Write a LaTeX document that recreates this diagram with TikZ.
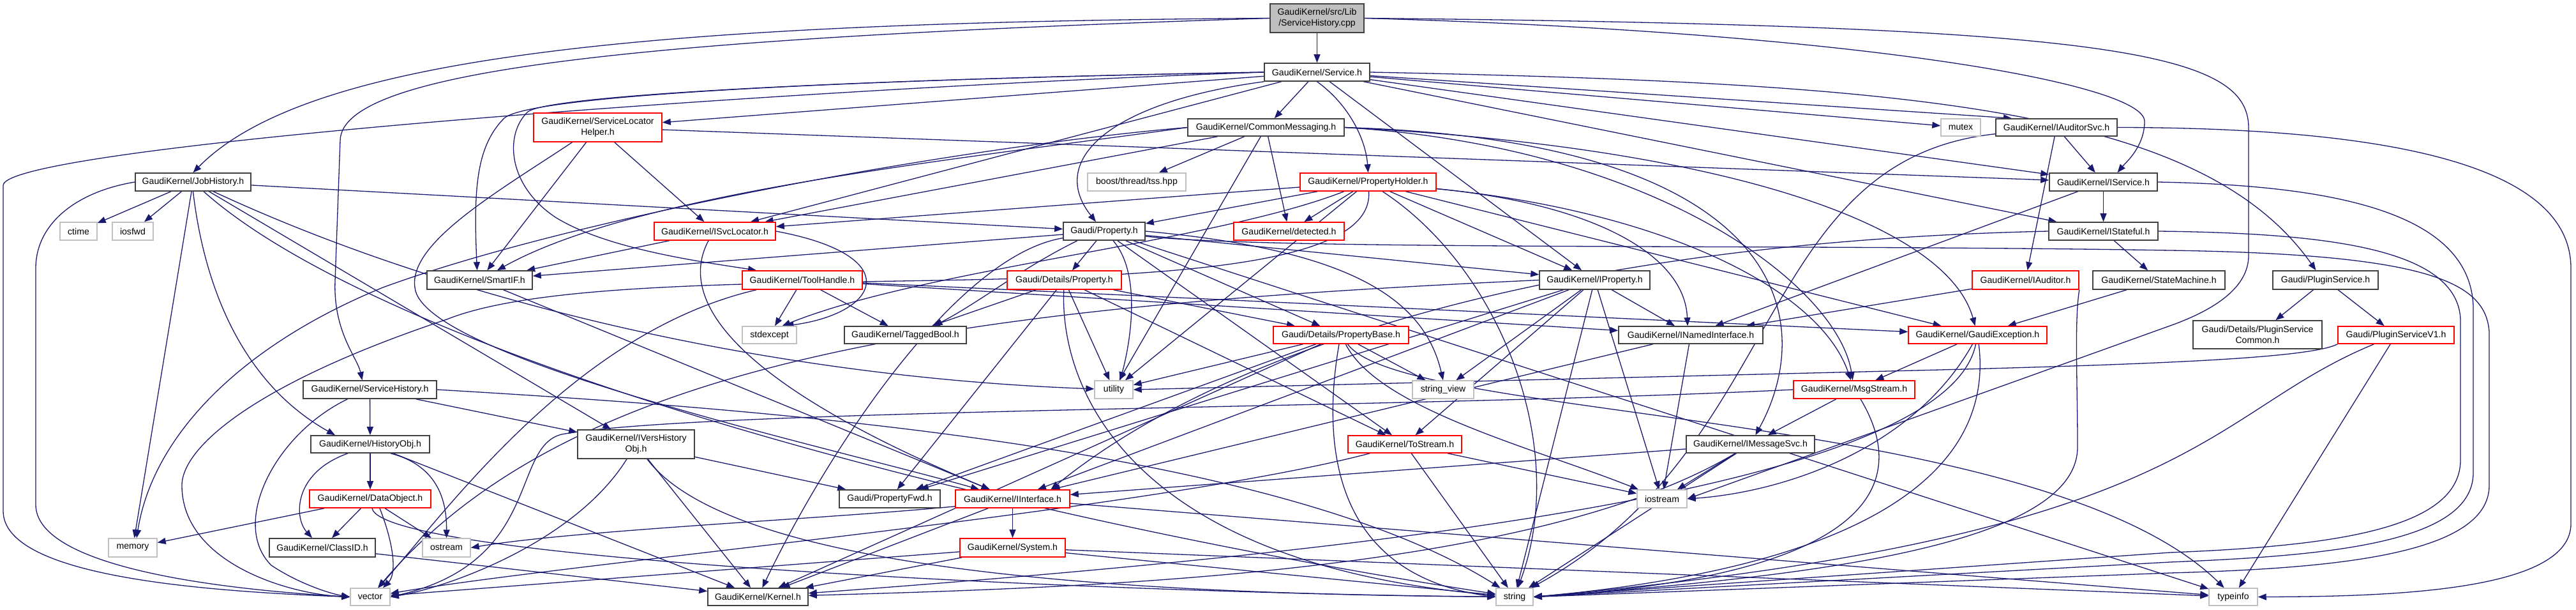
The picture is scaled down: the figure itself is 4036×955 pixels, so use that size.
\documentclass[tikz,border=0pt]{standalone}
\usepackage{fontspec}
\setmainfont{Liberation Sans}
\usetikzlibrary{arrows.meta}
\definecolor{edgeblue}{HTML}{191970}
\definecolor{boxred}{HTML}{FF0000}
\definecolor{boxgray}{HTML}{BFBFBF}
\definecolor{rootfill}{HTML}{BFBFBF}
\definecolor{boxblack}{HTML}{404040}
\pgfdeclarelayer{bg}
\pgfsetlayers{bg,main}
\newcommand{\nfont}{\fontsize{14.1}{17}\selectfont}
\tikzset{
  nd/.style={rectangle, inner sep=0pt, font=\nfont, align=center, fill=white, text=black},
  bbox/.style={nd, draw=boxblack, line width=1.6pt},
  rbox/.style={nd, draw=boxred, line width=1.6pt},
  gbox/.style={nd, draw=boxgray, line width=1.4pt},
  sz/.style 2 args={minimum width=#1pt, minimum height=#2pt},
  ed/.style={draw=edgeblue, line width=1.3pt, -{Triangle[length=13pt,width=10pt]}},
}
\begin{document}
\begin{tikzpicture}[x=1pt,y=1pt]
\useasboundingbox (0,0) rectangle (4036,-955);
% ---------------- nodes ----------------
\node[bbox, sz={147}{45}, fill=rootfill] (root) at (2063.5,-28.5) {GaudiKernel/src/Lib\\/ServiceHistory.cpp};
\node[bbox, sz={165}{28}] (service) at (2063.5,-113) {GaudiKernel/Service.h};
\node[bbox, sz={245}{27}] (common) at (1983.5,-199.5) {GaudiKernel/CommonMessaging.h};
\node[gbox, sz={62}{27}] (mutex) at (3072,-199.5) {mutex};
\node[bbox, sz={190}{27}] (iauditorsvc) at (3222,-199.5) {GaudiKernel/IAuditorSvc.h};
\node[rbox, sz={201}{45}] (svclochelper) at (936.5,-199.5) {GaudiKernel/ServiceLocator\\Helper.h};
\node[bbox, sz={181}{28}] (jobhist) at (302.5,-285) {GaudiKernel/JobHistory.h};
\node[gbox, sz={154}{28}] (tss) at (1781,-285) {boost/thread/tss.hpp};
\node[rbox, sz={213}{28}] (propholder) at (2143.5,-285) {GaudiKernel/PropertyHolder.h};
\node[bbox, sz={169}{28}] (iservice) at (3295.5,-285) {GaudiKernel/IService.h};
\node[gbox, sz={58}{28}] (ctime) at (123,-362) {ctime};
\node[gbox, sz={64}{28}] (iosfwd) at (208,-362) {iosfwd};
\node[rbox, sz={190}{28}] (isvcloc) at (1120,-362) {GaudiKernel/ISvcLocator.h};
\node[bbox, sz={128}{28}] (property) at (1730,-362) {Gaudi/Property.h};
\node[rbox, sz={173}{28}] (detected) at (2019.5,-362) {GaudiKernel/detected.h};
\node[bbox, sz={171}{28}] (istateful) at (3295.5,-362) {GaudiKernel/IStateful.h};
\node[bbox, sz={165}{29}] (smartif) at (751.5,-438.5) {GaudiKernel/SmartIF.h};
\node[rbox, sz={188}{29}] (toolhandle) at (1257,-438.5) {GaudiKernel/ToolHandle.h};
\node[rbox, sz={179}{29}] (detprop) at (1667.5,-438.5) {Gaudi/Details/Property.h};
\node[bbox, sz={173}{29}] (iproperty) at (2498.5,-438.5) {GaudiKernel/IProperty.h};
\node[rbox, sz={167}{29}] (iauditor) at (3173.5,-438.5) {GaudiKernel/IAuditor.h};
\node[bbox, sz={207}{29}] (statemachine) at (3382.5,-438.5) {GaudiKernel/StateMachine.h};
\node[bbox, sz={165}{29}] (pluginservice) at (3643.5,-438.5) {Gaudi/PluginService.h};
\node[gbox, sz={85}{27}] (stdexcept) at (1205.5,-524.5) {stdexcept};
\node[bbox, sz={191}{27}] (taggedbool) at (1418.5,-524.5) {GaudiKernel/TaggedBool.h};
\node[rbox, sz={212}{27}] (propbase) at (2101,-524.5) {Gaudi/Details/PropertyBase.h};
\node[bbox, sz={226}{27}] (inamed) at (2649,-524.5) {GaudiKernel/INamedInterface.h};
\node[rbox, sz={217}{27}] (gexc) at (3098.5,-524.5) {GaudiKernel/GaudiException.h};
\node[bbox, sz={202}{44}] (plugincommon) at (3537,-524) {Gaudi/Details/PluginService\\Common.h};
\node[rbox, sz={182}{27}] (pluginv1) at (3754,-524.5) {Gaudi/PluginServiceV1.h};
\node[bbox, sz={209}{28}] (svchist) at (579.5,-610) {GaudiKernel/ServiceHistory.h};
\node[gbox, sz={60}{28}] (utility) at (1745,-610) {utility};
\node[gbox, sz={96}{28}] (stringview) at (2261,-610) {string\_view};
\node[rbox, sz={190}{28}] (msgstream) at (2905,-610) {GaudiKernel/MsgStream.h};
\node[bbox, sz={186}{27}] (histobj) at (580,-695.5) {GaudiKernel/HistoryObj.h};
\node[bbox, sz={183}{45}] (iversh) at (996.5,-695.5) {GaudiKernel/IVersHistory\\Obj.h};
\node[rbox, sz={178}{27}] (tostream) at (2201,-695.5) {GaudiKernel/ToStream.h};
\node[bbox, sz={201}{27}] (imsgsvc) at (2742.5,-695.5) {GaudiKernel/IMessageSvc.h};
\node[rbox, sz={190}{28}] (dataobj) at (580,-781) {GaudiKernel/DataObject.h};
\node[bbox, sz={158}{28}] (propfwd) at (1394,-781) {Gaudi/PropertyFwd.h};
\node[rbox, sz={179}{28}] (iinterface) at (1586.5,-781) {GaudiKernel/IInterface.h};
\node[gbox, sz={78}{28}] (iostream) at (2604,-781) {iostream};
\node[gbox, sz={76}{29}] (memory) at (208,-857.5) {memory};
\node[bbox, sz={166}{29}] (classid) at (505,-857.5) {GaudiKernel/ClassID.h};
\node[gbox, sz={75}{29}] (ostream) at (699.5,-857.5) {ostream};
\node[rbox, sz={165}{29}] (system) at (1586.5,-857.5) {GaudiKernel/System.h};
\node[gbox, sz={62}{27}] (vector) at (580,-934.5) {vector};
\node[bbox, sz={157}{27}] (kernel) at (1187.5,-934.5) {GaudiKernel/Kernel.h};
\node[gbox, sz={58}{27}] (string) at (2373,-934.5) {string};
\node[gbox, sz={76}{27}] (typeinfo) at (3499,-934.5) {typeinfo};
% ---------------- edges ----------------
\begin{pgfonlayer}{bg}
% root
\draw[ed] (root) -- (service);
\draw[ed] (root.west) .. controls (1000,-35) and (480,-90) .. (jobhist.north);
\draw[ed] (root.west) .. controls (1000,-60) and (535,-110) .. (533,-220) -- (525,-440) .. controls (522,-520) and (560,-560) .. ([xshift=-12pt]svchist.north);
\draw[ed] (root.east) .. controls (2900,-50) and (3360,-130) .. (3360,-190) .. controls (3360,-230) and (3330,-255) .. ([xshift=22pt]iservice.north);
\draw[ed] (root.east) .. controls (3300,-40) and (3523,-80) .. (3523,-200) -- (3523,-400) .. controls (3523,-450) and (3470,-485) .. (3400,-510) -- (iostream.east);
% service
\draw[ed] (service) -- (common);
\draw[ed] (service) -- ([xshift=-70pt]iauditorsvc.north);
\draw[ed] (service) -- (mutex);
\draw[ed] (service) -- (iproperty);
\draw[ed] (service) -- (iservice);
\draw[ed] (service) -- (istateful);
\draw[ed] (service) -- (isvcloc);
\draw[ed] (service) -- (svclochelper);
\draw[ed] (service.south west) .. controls (1740,-160) and (1640,-250) .. ([xshift=-13pt]property.north);
\draw[ed] (service.south) .. controls (2115,-165) and (2140,-220) .. (propholder.north);
\draw[ed] (service.east) .. controls (3000,-130) and (3450,-170) .. ([xshift=-15pt]pluginservice.north);
\draw[ed] (service.west) .. controls (1300,-125) and (830,-150) .. (790,-185) .. controls (745,-230) and (742,-300) .. ([xshift=-4pt]smartif.north);
\draw[ed] (service.west) .. controls (1300,-125) and (860,-150) .. (827,-175) .. controls (790,-210) and (795,-290) .. (870,-340) .. controls (950,-390) and (1100,-410) .. ([xshift=-72pt]toolhandle.north);
\draw[ed] (service.west) .. controls (1200,-140) and (8,-230) .. (5,-290) -- (5,-800) .. controls (5,-900) and (300,-925) .. (vector.west);
% jobhist
\draw[ed] (jobhist) -- (ctime);
\draw[ed] (jobhist) -- (iosfwd);
\draw[ed] (jobhist) -- (memory);
\draw[ed] (jobhist) -- (iversh);
\draw[ed] (jobhist) -- (property);
\draw[ed] (jobhist.south) .. controls (320,-450) and (380,-600) .. ([xshift=-55pt]histobj.north);
\draw[ed] (jobhist) .. controls (600,-550) and (1500,-800) .. (string);
\draw[ed] (jobhist) .. controls (700,-470) and (1200,-590) .. (utility);
\draw[ed] (jobhist.west) .. controls (120,-300) and (56,-350) .. (56,-420) -- (56,-790) .. controls (56,-880) and (300,-920) .. (vector.west);
% svchist
\draw[ed] (svchist) -- (histobj);
\draw[ed] (svchist) -- (iversh);
\draw[ed] (svchist.east) .. controls (1200,-640) and (2000,-700) .. (string);
\draw[ed] ([xshift=-35pt]svchist.south) .. controls (430,-680) and (360,-820) .. (425,-885) .. controls (470,-915) and (520,-930) .. (vector.west);
% histobj
\draw[ed] (histobj) -- (dataobj);
\draw[ed] ([xshift=-35pt]histobj.south) .. controls (460,-740) and (460,-810) .. ([xshift=-16pt]classid.north);
\draw[ed] ([xshift=32pt]histobj.south) .. controls (690,-730) and (700,-790) .. (ostream.north);
\draw[ed] (histobj) -- (kernel);
% dataobj
\draw[ed] (dataobj) -- (classid);
\draw[ed] (dataobj) -- (memory);
\draw[ed] (dataobj) -- (ostream);
\draw[ed] (dataobj) .. controls (600,-880) and (1800,-930) .. (string);
\draw[ed] ([xshift=15pt]dataobj.south) .. controls (620,-860) and (620,-900) .. ([xshift=20pt]vector.north);
\draw[ed] (classid) -- (kernel);
% iversh
\draw[ed] (iversh) -- (propfwd);
\draw[ed] (iversh) -- (kernel);
\draw[ed] (iversh) .. controls (1150,-900) and (1800,-930) .. (string);
\draw[ed] (iversh) .. controls (900,-850) and (700,-920) .. (vector.east);
% common
\draw[ed] (common) -- (tss);
\draw[ed] (common) -- (detected);
\draw[ed] (common) -- (isvcloc);
\draw[ed] (common) -- (utility);
\draw[ed] (common.east) .. controls (2700,-230) and (3050,-350) .. (gexc);
\draw[ed] (common.east) .. controls (2800,-220) and (2850,-500) .. (imsgsvc);
\draw[ed] (common.east) .. controls (2600,-230) and (2880,-450) .. (msgstream);
\draw[ed] (common.west) .. controls (1500,-250) and (1000,-300) .. (smartif);
\draw[ed] (common.west) .. controls (1500,-230) and (900,-340) .. (600,-450) .. controls (380,-540) and (240,-680) .. ([xshift=6pt]memory.north);
% svclochelper
\draw[ed] (svclochelper) -- (isvcloc);
\draw[ed] (svclochelper) -- (smartif);
\draw[ed] (svclochelper) -- (iservice);
\draw[ed] ([xshift=-40pt]svclochelper.south) .. controls (780,-300) and (640,-380) .. (650,-450) .. controls (660,-560) and (1300,-700) .. (iinterface);
% propholder
\draw[ed] (propholder) -- (property);
\draw[ed] (propholder) -- (detected);
\draw[ed] (propholder) -- (iproperty);
\draw[ed] (propholder) -- (isvcloc);
\draw[ed] (propholder) -- (gexc);
\draw[ed] (propholder) -- (utility);
\draw[ed] (propholder) .. controls (2600,-330) and (2850,-450) .. (msgstream);
\draw[ed] (propholder) .. controls (2500,-320) and (2640,-400) .. ([xshift=-5pt]inamed.north);
\draw[ed] (propholder) .. controls (1900,-380) and (1450,-420) .. ([xshift=20pt]stdexcept.north);
\draw[ed] (propholder) .. controls (2350,-420) and (2460,-700) .. ([xshift=5pt]string.north);
\draw[ed] (propholder) .. controls (2160,-520) and (1000,-380) .. (700,-500) .. controls (400,-600) and (285,-700) .. (285,-760) .. controls (285,-880) and (450,-930) .. (vector.west);
% property
\draw[ed] (property) -- (detprop);
\draw[ed] (property) -- (propbase);
\draw[ed] (property) -- (iproperty);
\draw[ed] (property) -- (smartif);
\draw[ed] (property) -- (tostream);
\draw[ed] (property) -- (typeinfo);
\draw[ed] (property) .. controls (1500,-400) and (1300,-700) .. (kernel);
\draw[ed] ([xshift=-42pt]property.south) .. controls (1600,-420) and (1540,-470) .. ([xshift=45pt]taggedbool.north);
\draw[ed] (property.east) .. controls (2100,-390) and (2230,-460) .. (stringview.north);
\draw[ed] ([xshift=14pt]property.south) .. controls (1790,-430) and (1770,-540) .. ([xshift=10pt]utility.north);
\draw[ed] ([yshift=-8pt]property.east) .. controls (2000,-392) and (2800,-382) .. (3400,-392) .. controls (3800,-398) and (3895,-440) .. (3900,-520) -- (3900,-760) .. controls (3900,-870) and (3650,-890) .. (3400,-897) -- (string.east);
% isvcloc
\draw[ed] (isvcloc) -- (smartif);
\draw[ed] ([xshift=-10pt]isvcloc.south) .. controls (1060,-470) and (1150,-600) .. (iinterface);
\draw[ed] (isvcloc.east) .. controls (1420,-400) and (1380,-490) .. ([xshift=25pt]stdexcept.north);
% toolhandle
\draw[ed] (toolhandle) -- (stdexcept);
\draw[ed] (toolhandle) -- (taggedbool);
\draw[ed] (toolhandle) -- (inamed);
\draw[ed] (toolhandle) -- (gexc);
\draw[ed] ([xshift=-72pt]toolhandle.south) .. controls (900,-520) and (700,-800) .. (vector);
% detprop
\draw[ed] (detprop) -- (taggedbool);
\draw[ed] (detprop) -- (propfwd);
\draw[ed] (detprop) -- (utility);
\draw[ed] (detprop) -- (propbase);
\draw[ed] (detprop) -- (tostream);
\draw[ed] (detprop) .. controls (1660,-600) and (1760,-880) .. (string);
% iproperty
\draw[ed] (iproperty) -- (iinterface);
\draw[ed] (iproperty) -- (inamed);
\draw[ed] (iproperty) -- (propfwd);
\draw[ed] (iproperty) -- (iostream);
\draw[ed] (iproperty) -- (string);
\draw[ed] (iproperty) -- (stringview);
\draw[ed] (iproperty) -- (tostream);
\draw[ed] (iproperty.west) .. controls (1500,-480) and (900,-560) .. (vector);
% smartif
\draw[ed] (smartif) -- (iinterface);
% propbase
\draw[ed] (propbase) -- (propfwd);
\draw[ed] (propbase) -- (kernel);
\draw[ed] (propbase) -- (stringview);
\draw[ed] (propbase) -- (utility);
\draw[ed] ([xshift=-3pt]propbase.south) .. controls (2070,-700) and (2090,-900) .. (string.west);
\draw[ed] (propbase) .. controls (2160,-640) and (2400,-700) .. (iostream);
\draw[ed] (propbase) .. controls (2200,-660) and (3200,-640) .. (typeinfo);
% inamed
\draw[ed] (inamed) -- (iinterface);
\draw[ed] (inamed) -- (iostream);
% tostream
\draw[ed] (tostream) -- (string);
\draw[ed] (tostream) -- (iostream);
\draw[ed] (tostream) .. controls (1800,-800) and (900,-880) .. (vector);
% imsgsvc
\draw[ed] (imsgsvc) -- (iinterface);
\draw[ed] (imsgsvc) -- (iostream);
\draw[ed] (imsgsvc) -- (string);
\draw[ed] (imsgsvc) .. controls (2400,-900) and (1700,-920) .. (kernel);
% msgstream
\draw[ed] (msgstream) -- (imsgsvc);
\draw[ed] ([xshift=10pt]msgstream.south) .. controls (2990,-750) and (2950,-900) .. (string.east);
\draw[ed] (msgstream.west) .. controls (2200,-640) and (1100,-640) .. (880,-680) .. controls (800,-700) and (850,-880) .. (vector.east);
% gexc
\draw[ed] (gexc) -- (msgstream);
\draw[ed] (gexc) .. controls (3000,-700) and (2800,-770) .. (iostream.east);
\draw[ed] (gexc) .. controls (3050,-760) and (2200,-860) .. (kernel);
\draw[ed] (gexc) .. controls (3120,-700) and (3000,-880) .. (string.east);
% iinterface
\draw[ed] (iinterface) -- (system);
\draw[ed] (iinterface) -- (kernel);
\draw[ed] (iinterface) -- (typeinfo);
\draw[ed] ([yshift=3pt]iinterface.south west) .. controls (1300,-812) and (900,-830) .. (ostream.east);
% system
\draw[ed] (system) -- (kernel);
\draw[ed] (system) -- (string);
\draw[ed] (system) -- (typeinfo);
\draw[ed] (system) -- (vector);
% iservice
\draw[ed] (iservice) -- (istateful);
\draw[ed] (iservice) -- (inamed);
\draw[ed] (iservice.east) .. controls (3650,-290) and (3870,-330) .. (3875,-480) -- (3875,-740) .. controls (3875,-850) and (3650,-870) .. (3400,-880) -- (string.east);
% istateful
\draw[ed] (istateful) -- (statemachine);
\draw[ed] (istateful.west) .. controls (2400,-380) and (1900,-560) .. ([xshift=60pt]iinterface.north);
\draw[ed] (istateful.east) .. controls (3650,-365) and (3850,-390) .. (3855,-500) -- (3855,-720) .. controls (3855,-830) and (3650,-855) .. (3400,-865) -- (string.east);
% statemachine
\draw[ed] (statemachine) -- (gexc);
% iauditor
\draw[ed] (iauditor) -- (inamed);
\draw[ed] (iauditor.south east) .. controls (3250,-500) and (3255,-600) .. (3255,-700) .. controls (3255,-860) and (2800,-905) .. (string.east);
% iauditorsvc
\draw[ed] (iauditorsvc) -- (iauditor);
\draw[ed] (iauditorsvc) -- (iservice);
\draw[ed] (iauditorsvc) .. controls (2750,-250) and (2800,-700) .. (string);
\draw[ed] (iauditorsvc.east) .. controls (3750,-200) and (4028,-260) .. (4028,-420) -- (4028,-820) .. controls (4028,-925) and (3750,-934) .. (typeinfo.east);
% plugins
\draw[ed] (pluginservice) -- (plugincommon);
\draw[ed] (pluginservice) -- (pluginv1);
\draw[ed] (pluginv1) -- (typeinfo);
\draw[ed] (pluginv1.south west) .. controls (3620,-560) and (3400,-570) .. (3000,-580) -- (utility.east);
\draw[ed] (pluginv1) .. controls (3450,-650) and (3450,-840) .. (string.east);
\end{pgfonlayer}
\end{tikzpicture}
\end{document}
